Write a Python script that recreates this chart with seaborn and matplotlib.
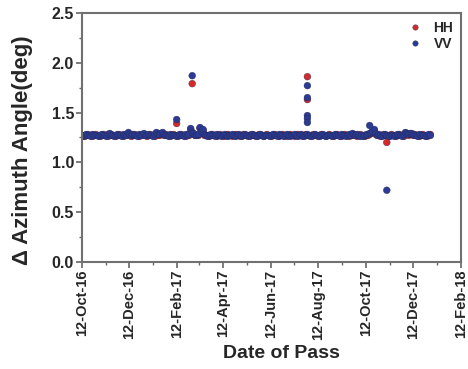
import numpy as np
import pandas as pd
import matplotlib
matplotlib.use("Agg")
import matplotlib.pyplot as plt
import matplotlib.dates as mdates
import seaborn as sns

# ---------------- data ----------------
base_start = "2016-10-12"
base_end = "2018-01-03"
base_step = "2D"

vv_base = [
    1.27, 1.26, 1.27, 1.28, 1.27, 1.27, 1.26, 1.28, 1.27, 1.27,
    1.27, 1.26, 1.27, 1.28, 1.27, 1.27, 1.26, 1.28, 1.29, 1.27,
    1.27, 1.26, 1.27, 1.28, 1.27, 1.27, 1.26, 1.28, 1.27, 1.27,
    1.30, 1.28, 1.27, 1.28, 1.27, 1.27, 1.26, 1.28, 1.27, 1.27,
    1.29, 1.27, 1.27, 1.28, 1.27, 1.27, 1.26, 1.28, 1.30, 1.28,
    1.28, 1.29, 1.30, 1.28, 1.27, 1.27, 1.26, 1.28, 1.27, 1.27,
    1.27, 1.26, 1.27, 1.28, 1.27, 1.27, 1.26, 1.28, 1.27, 1.28,
    1.34, 1.30, 1.29, 1.27, 1.27, 1.28, 1.35, 1.31, 1.33, 1.28,
    1.27, 1.26, 1.27, 1.28, 1.27, 1.27, 1.26, 1.28, 1.27, 1.27,
    1.26, 1.27, 1.28, 1.27, 1.26, 1.27, 1.27, 1.28, 1.27, 1.26,
    1.27, 1.28, 1.27, 1.26, 1.27, 1.28, 1.27, 1.27, 1.26, 1.27,
    1.28, 1.27, 1.27, 1.26, 1.27, 1.28, 1.27, 1.26, 1.27, 1.27,
    1.27, 1.26, 1.27, 1.28, 1.27, 1.27, 1.26, 1.28, 1.27, 1.27,
    1.26, 1.27, 1.28, 1.27, 1.26, 1.27, 1.27, 1.28, 1.27, 1.26,
    1.27, 1.28, 1.27, 1.26, 1.27, 1.28, 1.27, 1.27, 1.26, 1.27,
    1.28, 1.27, 1.27, 1.26, 1.27, 1.28, 1.27, 1.26, 1.27, 1.27,
    1.27, 1.26, 1.27, 1.28, 1.27, 1.27, 1.26, 1.28, 1.27, 1.27,
    1.26, 1.27, 1.28, 1.27, 1.29, 1.28, 1.27, 1.28, 1.27, 1.26,
    1.27, 1.26, 1.27, 1.28, 1.28, 1.29, 1.30, 1.31, 1.33, 1.29,
    1.27, 1.28, 1.27, 1.26, 1.27, 1.28, 1.27, 1.27, 1.26, 1.27,
    1.27, 1.26, 1.27, 1.28, 1.27, 1.27, 1.26, 1.28, 1.30, 1.29,
    1.28, 1.29, 1.29, 1.28, 1.27, 1.27, 1.26, 1.28, 1.27, 1.27,
    1.27, 1.26, 1.27, 1.28, 1.27,
]

hh_base = [
    1.27, 1.27, 1.26, 1.27, 1.28, 1.27, 1.27, 1.26, 1.27, 1.28,
    1.27, 1.27, 1.26, 1.27, 1.28, 1.27, 1.27, 1.26, 1.28, 1.28,
    1.27, 1.27, 1.26, 1.27, 1.28, 1.27, 1.27, 1.26, 1.27, 1.28,
    1.29, 1.27, 1.26, 1.27, 1.28, 1.27, 1.27, 1.26, 1.27, 1.28,
    1.28, 1.27, 1.26, 1.27, 1.28, 1.27, 1.27, 1.26, 1.29, 1.27,
    1.27, 1.28, 1.29, 1.27, 1.28, 1.27, 1.27, 1.26, 1.27, 1.28,
    1.27, 1.27, 1.26, 1.27, 1.28, 1.27, 1.27, 1.26, 1.27, 1.27,
    1.33, 1.29, 1.28, 1.27, 1.27, 1.27, 1.34, 1.30, 1.32, 1.27,
    1.27, 1.27, 1.26, 1.27, 1.28, 1.27, 1.27, 1.26, 1.27, 1.28,
    1.27, 1.27, 1.26, 1.27, 1.28, 1.27, 1.27, 1.26, 1.27, 1.28,
    1.27, 1.27, 1.26, 1.27, 1.28, 1.27, 1.27, 1.26, 1.27, 1.28,
    1.27, 1.27, 1.26, 1.27, 1.28, 1.27, 1.27, 1.26, 1.27, 1.28,
    1.27, 1.27, 1.26, 1.27, 1.28, 1.27, 1.27, 1.26, 1.27, 1.28,
    1.27, 1.27, 1.26, 1.27, 1.28, 1.27, 1.27, 1.26, 1.27, 1.28,
    1.27, 1.27, 1.26, 1.27, 1.28, 1.27, 1.27, 1.26, 1.27, 1.28,
    1.27, 1.27, 1.26, 1.27, 1.28, 1.27, 1.27, 1.26, 1.27, 1.28,
    1.27, 1.27, 1.26, 1.27, 1.28, 1.27, 1.27, 1.26, 1.27, 1.28,
    1.27, 1.27, 1.26, 1.27, 1.28, 1.27, 1.27, 1.26, 1.27, 1.28,
    1.27, 1.27, 1.26, 1.27, 1.27, 1.28, 1.29, 1.30, 1.32, 1.28,
    1.27, 1.27, 1.26, 1.27, 1.28, 1.27, 1.27, 1.26, 1.27, 1.28,
    1.27, 1.27, 1.26, 1.27, 1.28, 1.27, 1.27, 1.26, 1.29, 1.28,
    1.27, 1.28, 1.28, 1.27, 1.28, 1.27, 1.27, 1.26, 1.27, 1.28,
    1.27, 1.27, 1.26, 1.27, 1.28,
]

vv_extra_dates = ["2017-02-11", "2017-03-03", "2017-07-29", "2017-07-29",
                  "2017-07-29", "2017-07-29", "2017-07-29", "2017-10-17",
                  "2017-11-08"]
vv_extra_vals = [1.43, 1.87, 1.77, 1.65, 1.47, 1.44, 1.40, 1.37, 0.72]

hh_extra_dates = ["2017-02-11", "2017-03-03", "2017-07-29", "2017-07-29",
                  "2017-11-08"]
hh_extra_vals = [1.39, 1.79, 1.86, 1.63, 1.20]

tick_dates = ["2016-10-12", "2016-12-12", "2017-02-12", "2017-04-12",
              "2017-06-12", "2017-08-12", "2017-10-12", "2017-12-12",
              "2018-02-12"]
minor_dates = ["2016-11-12", "2017-01-12", "2017-03-12", "2017-05-12",
               "2017-07-12", "2017-09-12", "2017-11-12", "2018-01-12"]

series_names = ["HH", "VV"]
colors = {"HH": "#d42a2a", "VV": "#2b3a94"}

# ---------------- frame ----------------
base_dates = pd.date_range(base_start, base_end, freq=base_step)
n = len(base_dates)
hh_df = pd.DataFrame({"date": list(base_dates) + list(pd.to_datetime(hh_extra_dates)),
                      "val": hh_base[:n] + hh_extra_vals,
                      "pol": "HH"})
vv_df = pd.DataFrame({"date": list(base_dates) + list(pd.to_datetime(vv_extra_dates)),
                      "val": vv_base[:n] + vv_extra_vals,
                      "pol": "VV"})
df = pd.concat([hh_df, vv_df], ignore_index=True)

sns.set_style("white")
plt.rcParams["font.family"] = ["Liberation Sans", "DejaVu Sans"]
plt.rcParams["font.weight"] = "bold"

fig = plt.figure(figsize=(4.68, 3.69), dpi=100)
ax = fig.add_axes([0.1746, 0.290, 0.8115, 0.675])

sns.scatterplot(data=df, x="date", y="val", hue="pol", hue_order=series_names,
                palette=colors, s=24, edgecolor="#22264e", linewidth=0.25,
                ax=ax, legend=True)

# ---------------- axes ----------------
ax.set_xlim(pd.Timestamp(tick_dates[0]), pd.Timestamp(tick_dates[-1]))
ax.set_ylim(0.0, 2.5)
ax.set_xticks(pd.to_datetime(tick_dates))
ax.set_xticks(pd.to_datetime(minor_dates), minor=True)
ax.xaxis.set_major_formatter(mdates.DateFormatter("%d-%b-%y"))
ax.set_yticks([0.0, 0.5, 1.0, 1.5, 2.0, 2.5])
ax.set_yticks([0.25, 0.75, 1.25, 1.75, 2.25], minor=True)
ax.yaxis.set_major_formatter(matplotlib.ticker.FormatStrFormatter("%.1f"))

for lab in ax.get_xticklabels():
    lab.set_rotation(90)
    lab.set_fontsize(10.5)
    lab.set_fontweight("bold")
for lab in ax.get_yticklabels():
    lab.set_fontsize(11.5)
    lab.set_fontweight("bold")

ax.tick_params(axis="both", which="major", direction="out", length=4,
               width=1.2, color="#666666", pad=1.5, bottom=True, left=True)
ax.tick_params(axis="both", which="minor", direction="out", length=2.5,
               width=1.0, color="#666666", bottom=True, left=True)

for sp in ax.spines.values():
    sp.set_visible(True)
    sp.set_color("#707070")
    sp.set_linewidth(1.5)

ax.set_xlabel("Date of Pass", fontsize=14, fontweight="bold")
ax.xaxis.set_label_coords(0.527, -0.335)
ax.set_ylabel("\u0394 Azimuth Angle(deg)", fontsize=16, fontweight="bold")
ax.yaxis.set_label_coords(-0.128, 0.45)

leg = ax.legend(loc="upper right", frameon=False, fontsize=10,
                handletextpad=0.3, borderaxespad=0.2, labelspacing=0.15,
                markerscale=0.8)
for t in leg.get_texts():
    t.set_fontweight("bold")

fig.savefig("out.png", dpi=100)
